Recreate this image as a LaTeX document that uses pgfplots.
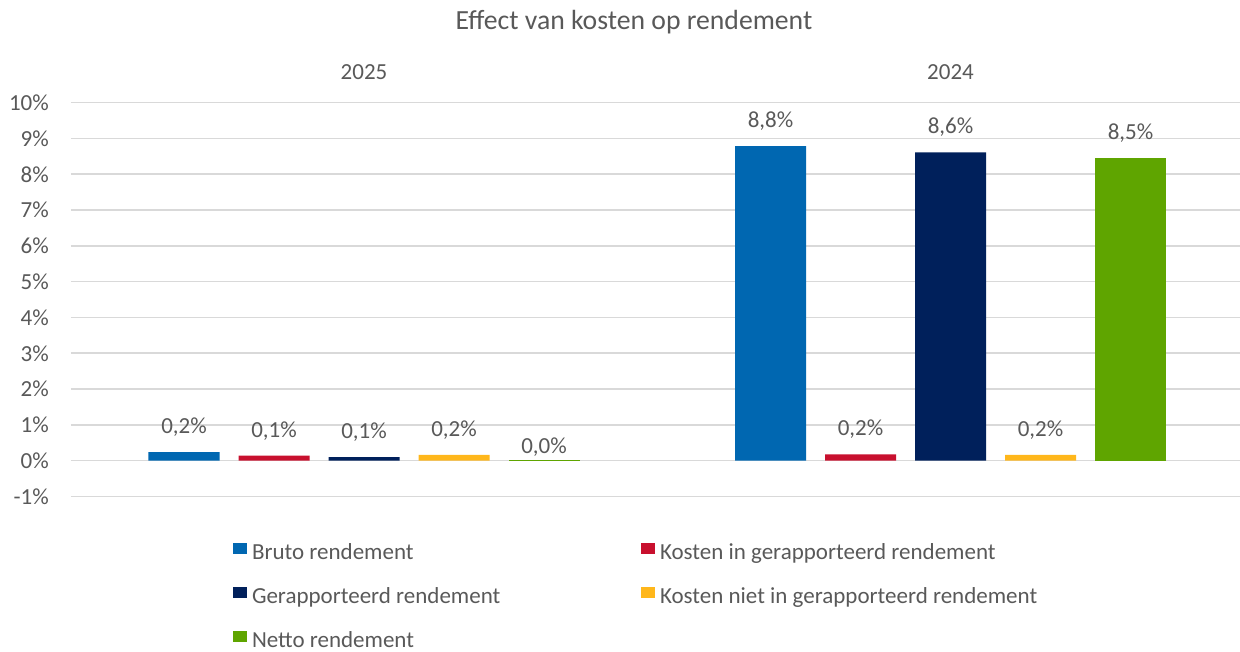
\documentclass[border=0pt]{standalone}
\usepackage{pgfplots}
\pgfplotsset{compat=1.18}
\usepackage{fontspec}
\setmainfont{Carlito}
\definecolor{cBlue}{HTML}{0067B1}
\definecolor{cRed}{HTML}{C8102E}
\definecolor{cNavy}{HTML}{00205B}
\definecolor{cOrange}{HTML}{FFB71B}
\definecolor{cGreen}{HTML}{5FA500}
\definecolor{cText}{HTML}{595959}
\definecolor{cGrid}{HTML}{D9D9D9}
\pgfplotsset{
  mybar/.style={fill=#1, draw=none,
    legend image code/.code={\fill[fill=#1] (0pt,0pt) rectangle (14pt,11pt);}},
}
\begin{document}
\begin{tikzpicture}
\path[use as bounding box] (-71pt,-155.5pt) rectangle (1169pt,496.5pt);
\begin{axis}[
  at={(0pt,0pt)}, anchor=south west,
  scale only axis, width=1169pt, height=393.8pt,
  xmin=0, xmax=1169, ymin=-1, ymax=10,
  clip=false,
  axis line style={draw=none},
  major tick length=0pt,
  ytick={-1,0,1,2,3,4,5,6,7,8,9,10},
  yticklabels={-1\%,0\%,1\%,2\%,3\%,4\%,5\%,6\%,7\%,8\%,9\%,10\%},
  yticklabel style={anchor=east, inner sep=0pt},
  yticklabel shift=22pt,
  xtick={293,879.5},
  xticklabels={2025,2024},
  xticklabel pos=upper,
  xticklabel style={anchor=base, inner sep=0pt},
  xticklabel shift=23pt,
  ymajorgrids,
  grid style={draw=cGrid, line width=1.6pt},
  ticklabel style={font=\fontsize{23}{27}\selectfont, text=cText},
  ybar, bar shift=0pt, bar width=71,
  nodes near coords={\pgfmathprintnumber[fixed,fixed zerofill,precision=1,use comma,assume math mode=true]{\pgfplotspointmeta}\%},
  every node near coord/.append style={anchor=base, inner sep=0pt, yshift=18.5pt, font=\fontsize{23}{27}\selectfont, text=cText},
  legend columns=2,
  legend cell align=left,
  legend style={draw=none, fill=none, inner sep=0pt, outer sep=0pt,
    at={(axis cs:162,-2.29)}, anchor=north west,
    row sep=22.5pt,
    nodes={inner sep=0pt, text height=16pt, text depth=5pt, text=cText, font=\fontsize{23}{27}\selectfont},
    /tikz/column 1/.style={column sep=5pt},
    /tikz/column 3/.style={column sep=5pt}},
]
\addplot[mybar=cBlue] coordinates {(113,0.24) (699.5,8.79)};
\addlegendentry{\makebox[389pt][l]{Bruto rendement}}
\addplot[mybar=cRed] coordinates {(203,0.14) (789.5,0.18)};
\addlegendentry{Kosten in gerapporteerd rendement}
\addplot[mybar=cNavy] coordinates {(293,0.10) (879.5,8.61)};
\addlegendentry{\makebox[389pt][l]{Gerapporteerd rendement}}
\addplot[mybar=cOrange] coordinates {(383,0.16) (969.5,0.16)};
\addlegendentry{Kosten niet in gerapporteerd rendement}
\addplot[mybar=cGreen] coordinates {(1059.5,8.46)};
\addlegendentry{Netto rendement}
\addplot[mybar=cGreen, forget plot, every node near coord/.append style={yshift=-12pt}] coordinates {(473,0.01)};
\node[anchor=base, inner sep=0pt, text=cText, font=\fontsize{27.7}{32}\selectfont] at (axis cs:563,12.04) {Effect van kosten op rendement};
\end{axis}
\end{tikzpicture}
\end{document}
